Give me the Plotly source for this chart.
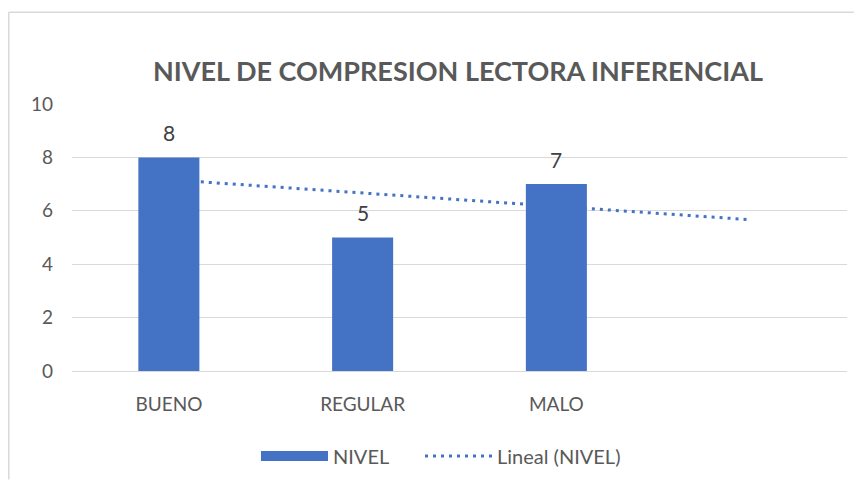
import numpy as np
import plotly.graph_objects as go

categories = ["BUENO", "REGULAR", "MALO"]
values = [8, 5, 7]
y_ticks = [0, 2, 4, 6, 8, 10]
forecast_periods = 1

# linear trendline (Excel style) from data
xs = np.arange(len(categories))
slope, intercept = np.polyfit(xs, values, 1)
trend_x = np.arange(len(categories) + forecast_periods)
trend_y = slope * trend_x + intercept

BLUE = "#4472C4"
GREY = "#595959"
FONT = "Lato"

W, H = 846, 473
L, R, T, B = 64, 7, 96, 109
PW, PH = W - L - R, H - T - B

fig = go.Figure()
# trendline on base axes (drawn beneath bars)
fig.add_trace(go.Scatter(
    x=trend_x, y=trend_y, mode="lines", name="Lineal (NIVEL)",
    line=dict(color=BLUE, width=3, dash="3px,5px"), xaxis="x", yaxis="y",
    hoverinfo="skip", legend="legend2"))
# bars on overlay axes (drawn above trendline)
fig.add_trace(go.Bar(
    x=xs, y=values, name="NIVEL", marker=dict(color=BLUE, line=dict(width=0)),
    width=0.315, xaxis="x2", yaxis="y2", showlegend=False, legendgroup="nivel"))
# legend entry for the bars as a wide rectangle
fig.add_trace(go.Scatter(
    x=[None], y=[None], mode="lines", name="NIVEL", legendgroup="nivel",
    line=dict(color=BLUE, width=14), xaxis="x2", yaxis="y2", legend="legend"))

annotations = [
    dict(x=x, y=v, xref="x2", yref="y2", text=str(v), showarrow=False,
         yanchor="middle", yshift=25, font=dict(size=21, color="#404040", family=FONT))
    for x, v in zip(xs, values)
]

legend_common = dict(orientation="h", xanchor="left",
                     y=-(448 - (H - B)) / PH, yanchor="middle",
                     font=dict(size=20, color=GREY), itemwidth=67,
                     bgcolor="rgba(0,0,0,0)")

xr = [-0.5, len(categories) + forecast_periods - 0.5]
fig.update_layout(
    width=W, height=H,
    margin=dict(l=L, r=R, t=T, b=B),
    paper_bgcolor="white", plot_bgcolor="white",
    font=dict(family=FONT, color=GREY, size=19),
    title=dict(text="<b>NIVEL DE COMPRESION LECTORA INFERENCIAL</b>",
               x=450 / W, xanchor="center", y=1 - 64 / H, yanchor="middle",
               font=dict(size=27, color=GREY, family=FONT)),
    xaxis=dict(range=xr, tickvals=list(xs), ticktext=categories, showgrid=False,
               zeroline=False, showline=False, ticks="",
               tickfont=dict(size=19, color=GREY), ticklabelstandoff=20),
    yaxis=dict(range=[0, 10], tickvals=y_ticks, showgrid=True, gridcolor="#D9D9D9",
               gridwidth=1, zeroline=True, zerolinecolor="#D9D9D9", zerolinewidth=1,
               showline=False, ticks="", tickfont=dict(size=19, color=GREY),
               ticklabelstandoff=18),
    xaxis2=dict(range=xr, overlaying="x", visible=False),
    yaxis2=dict(range=[0, 10], overlaying="y", visible=False),
    legend=dict(x=(248 - L) / PW, **legend_common),
    legend2=dict(x=(412 - L) / PW, **legend_common),
    showlegend=True,
    annotations=annotations,
    shapes=[
        dict(type="line", xref="paper", yref="paper", x0=(0.75 - L) / PW, x1=(W - L) / PW,
             y0=(H - B - 4) / PH, y1=(H - B - 4) / PH, line=dict(color="#D9D9D9", width=1.5)),
        dict(type="line", xref="paper", yref="paper", x0=(0.75 - L) / PW, x1=(0.75 - L) / PW,
             y0=(H - B - 4) / PH, y1=-B / PH, line=dict(color="#D9D9D9", width=1.5)),
    ],
)

fig.write_html("out.html")
